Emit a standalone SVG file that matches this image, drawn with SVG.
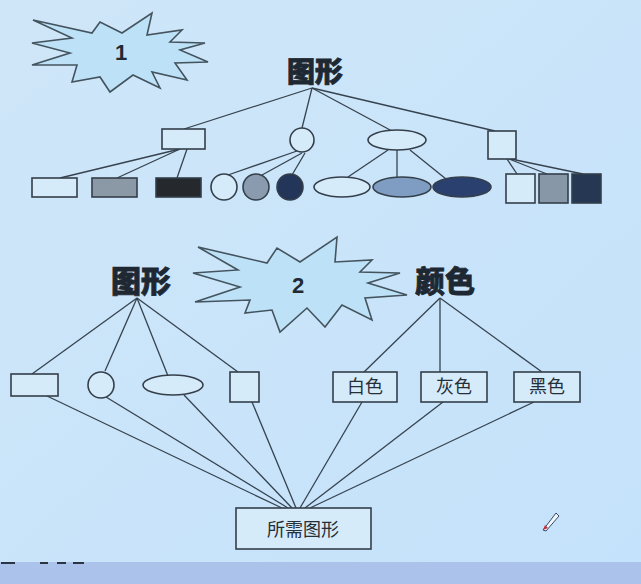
<svg xmlns="http://www.w3.org/2000/svg" width="641" height="584" viewBox="0 0 641 584">
<defs>
<linearGradient id="bg" x1="0" y1="0" x2="1" y2="1">
<stop offset="0" stop-color="#cfe6f8"/>
<stop offset="1" stop-color="#c4e2fb"/>
</linearGradient>
</defs>
<style>
.ln{stroke:#36434f;stroke-width:1.3;fill:none}
.sh{stroke:#343f4a;stroke-width:1.6}
.w{fill:#d6ebfa}
.star{fill:#bde2f7;stroke:#44545f;stroke-width:1.6;stroke-linejoin:miter}
.num{font-family:"Liberation Sans",Arial,sans-serif;font-weight:bold;font-size:22px;fill:#1f2a33;text-anchor:middle}
.big{font-family:"Noto Sans CJK SC","Noto Sans",sans-serif;font-weight:900;fill:#1e2833;text-anchor:middle;stroke:#1e2833;stroke-width:0.8}
.lbl{font-family:"Noto Sans CJK SC","Noto Sans",sans-serif;font-size:18px;fill:#262f38;text-anchor:middle}
</style>
<rect x="0" y="0" width="641" height="584" fill="url(#bg)"/>
<rect x="0" y="562" width="641" height="22" fill="#abc3ea"/>
<g fill="#2a3442">
<rect x="1" y="562" width="14" height="2"/>
<rect x="40" y="562" width="8" height="2"/>
<rect x="57" y="562" width="9" height="2"/>
<rect x="73" y="562" width="11" height="2"/>
</g>

<g id="connectors">
<!-- diagram 1 -->
<line class="ln" x1="312" y1="88" x2="184" y2="129"/>
<line class="ln" x1="312" y1="88" x2="302" y2="128"/>
<line class="ln" x1="312" y1="88" x2="392" y2="131"/>
<line class="ln" x1="312" y1="88" x2="495" y2="131"/>
<line class="ln" x1="180" y1="149" x2="60" y2="178"/>
<line class="ln" x1="180" y1="149" x2="117" y2="178"/>
<line class="ln" x1="187" y1="149" x2="177" y2="178"/>
<line class="ln" x1="297" y1="151" x2="228" y2="175"/>
<line class="ln" x1="302" y1="153" x2="262" y2="175"/>
<line class="ln" x1="305" y1="153" x2="292" y2="175"/>
<line class="ln" x1="388" y1="150" x2="348" y2="177"/>
<line class="ln" x1="397" y1="150" x2="397" y2="177"/>
<line class="ln" x1="410" y1="150" x2="446" y2="179"/>
<line class="ln" x1="507" y1="159" x2="517" y2="174"/>
<line class="ln" x1="509" y1="159" x2="547" y2="174"/>
<line class="ln" x1="511" y1="159" x2="583" y2="174"/>
<!-- diagram 2 -->
<line class="ln" x1="137" y1="298" x2="32" y2="374"/>
<line class="ln" x1="137" y1="298" x2="105" y2="371"/>
<line class="ln" x1="137" y1="298" x2="168" y2="376"/>
<line class="ln" x1="137" y1="298" x2="238" y2="372"/>
<line class="ln" x1="440" y1="298" x2="364" y2="372"/>
<line class="ln" x1="440" y1="298" x2="440" y2="372"/>
<line class="ln" x1="440" y1="298" x2="542" y2="372"/>
<line class="ln" x1="47" y1="396" x2="282" y2="508"/>
<line class="ln" x1="106" y1="397" x2="288" y2="508"/>
<line class="ln" x1="184" y1="395" x2="292" y2="508"/>
<line class="ln" x1="252" y1="402" x2="296" y2="508"/>
<line class="ln" x1="362" y1="402" x2="300" y2="508"/>
<line class="ln" x1="443" y1="402" x2="305" y2="508"/>
<line class="ln" x1="534" y1="402" x2="310" y2="508"/>
</g>

<g id="star1">
<polygon class="star" points="33,20 92,33 100,22 122,33 152,13 147,35 182,30 170,42 205,43 180,50 208,62 175,63 187,80 152,72 160,88 133,75 110,92 100,77 72,82 77,65 32,65 70,53 32,43 72,38"/>
<text class="num" x="121" y="60">1</text>
</g>

<g id="root1"><text class="big" x="315" y="82" font-size="28">图形</text></g>

<g id="n1-rect"><rect class="sh w" x="162" y="129" width="43" height="20"/></g>
<g id="n1-circle"><circle class="sh w" cx="302" cy="140" r="12"/></g>
<g id="n1-ellipse"><ellipse class="sh w" cx="397" cy="140" rx="29" ry="10"/></g>
<g id="n1-square"><rect class="sh w" x="488" y="131" width="28" height="28"/></g>

<g id="n1-rect-white"><rect class="sh w" x="32" y="178" width="45" height="19"/></g>
<g id="n1-rect-gray"><rect class="sh" x="92" y="178" width="45" height="19" fill="#8b98a6"/></g>
<g id="n1-rect-black"><rect class="sh" x="156" y="178" width="45" height="19" fill="#25292e"/></g>

<g id="n1-circle-white"><circle class="sh w" cx="224" cy="187" r="13"/></g>
<g id="n1-circle-gray"><circle class="sh" cx="256" cy="187" r="13" fill="#8a9bb0"/></g>
<g id="n1-circle-black"><circle class="sh" cx="290" cy="187" r="13" fill="#24355a"/></g>

<g id="n1-ellipse-white"><ellipse class="sh w" cx="342" cy="187" rx="28" ry="10"/></g>
<g id="n1-ellipse-gray"><ellipse class="sh" cx="402" cy="187" rx="29" ry="10" fill="#7f9dc2"/></g>
<g id="n1-ellipse-black"><ellipse class="sh" cx="462" cy="187" rx="29" ry="10" fill="#2a4170"/></g>

<g id="n1-square-white"><rect class="sh w" x="506" y="174" width="29" height="29"/></g>
<g id="n1-square-gray"><rect class="sh" x="539" y="174" width="29" height="29" fill="#8897a8"/></g>
<g id="n1-square-black"><rect class="sh" x="572" y="174" width="29" height="29" fill="#263753"/></g>

<g id="star2">
<polygon class="star" points="198,247 267,263 277,248 300,262 337,237 335,262 372,260 360,272 400,273 368,283 407,295 365,298 372,320 342,305 325,327 307,308 280,332 272,310 245,313 250,300 195,302 240,287 193,273 238,270"/>
<text class="num" x="298" y="293">2</text>
</g>

<g id="root2-shape"><text class="big" x="141" y="292" font-size="30">图形</text></g>
<g id="root2-color"><text class="big" x="445" y="292" font-size="30">颜色</text></g>

<g id="n2-rect"><rect class="sh w" x="11" y="374" width="47" height="22"/></g>
<g id="n2-circle"><circle class="sh w" cx="101" cy="385" r="13"/></g>
<g id="n2-ellipse"><ellipse class="sh w" cx="173" cy="385" rx="30" ry="10"/></g>
<g id="n2-square"><rect class="sh w" x="230" y="372" width="29" height="30"/></g>

<g id="n2-white"><rect class="sh w" x="333" y="372" width="64" height="30"/><text class="lbl" x="365" y="393">白色</text></g>
<g id="n2-gray"><rect class="sh w" x="421" y="372" width="66" height="30"/><text class="lbl" x="454" y="393">灰色</text></g>
<g id="n2-black"><rect class="sh w" x="514" y="372" width="66" height="30"/><text class="lbl" x="547" y="393">黑色</text></g>

<g id="result"><rect class="sh w" x="236" y="508" width="135" height="41"/><text class="lbl" x="303" y="536" font-size="22">所需图形</text></g>

<g id="cursor">
<polygon points="543,530 556,513 559,516 546,531" fill="#eef5fb" stroke="#3a4a66" stroke-width="1"/>
<polygon points="543,530 545,525 548,528" fill="#c0303a"/>
</g>
</svg>
